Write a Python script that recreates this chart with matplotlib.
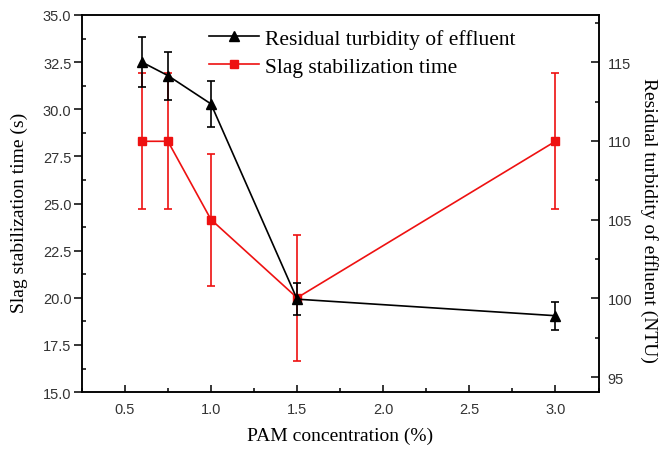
import numpy as np
import matplotlib.pyplot as plt
from matplotlib.ticker import MultipleLocator

pam = [0.6, 0.75, 1.0, 1.5, 3.0]
slag_time = [28.3, 28.3, 24.15, 20.0, 28.3]
slag_err = [3.6, 3.6, 3.5, 3.35, 3.6]
turbidity = [115.0, 114.15, 112.35, 99.95, 98.9]
turb_err = [1.57, 1.52, 1.44, 1.0, 0.9]

serif = ['Liberation Serif', 'DejaVu Serif']
sans = ['Liberation Sans', 'DejaVu Sans']
red = '#ee1111'

fig = plt.figure(figsize=(6.65, 4.56), dpi=100)
ax = fig.add_axes([0.123, 0.138, 0.777, 0.827])
ax2 = ax.twinx()

l2 = ax.errorbar(pam, slag_time, yerr=slag_err, color=red, marker='s',
                 markersize=5.5, lw=1.2, capsize=3.2, capthick=1.2, elinewidth=1.2)
l1 = ax2.errorbar(pam, turbidity, yerr=turb_err, color='black', marker='^',
                  markersize=6.5, lw=1.2, capsize=3.2, capthick=1.2, elinewidth=1.2)

ax.set_xlim(0.25, 3.25)
ax.set_ylim(15, 35)
ax2.set_ylim(94.05, 118.0)

ax.xaxis.set_major_locator(MultipleLocator(0.5))
ax.xaxis.set_minor_locator(MultipleLocator(0.25))
ax.yaxis.set_major_locator(MultipleLocator(2.5))
ax.yaxis.set_minor_locator(MultipleLocator(1.25))
ax2.yaxis.set_major_locator(MultipleLocator(5))
ax2.yaxis.set_minor_locator(MultipleLocator(2.5))
ax.xaxis.set_major_formatter(plt.FormatStrFormatter('%.1f'))
ax.yaxis.set_major_formatter(plt.FormatStrFormatter('%.1f'))

ax.tick_params(axis='x', which='both', direction='in', top=False)
ax.tick_params(axis='x', which='major', length=5, width=1.1, labelsize=10.5, pad=7)
ax.tick_params(axis='x', which='minor', length=3, width=1.1)
ax.tick_params(axis='y', which='major', direction='out', length=6, width=1.1,
               labelsize=10.5, pad=1.5)
ax.tick_params(axis='y', which='minor', direction='in', length=3, width=1.1)
ax2.tick_params(axis='y', which='major', direction='in', length=5.5, width=1.1,
                labelsize=10.5, pad=6.5)
ax2.tick_params(axis='y', which='minor', direction='in', length=3, width=1.1)

for a in (ax, ax2):
    for s in a.spines.values():
        s.set_linewidth(1.1)
    for t in a.get_xticklabels() + a.get_yticklabels():
        t.set_family(sans)
        t.set_color('#333333')

ax.set_xlabel('PAM concentration (%)', family=serif, fontsize=14, labelpad=8)
ax.set_ylabel('Slag stabilization time (s)', family=serif, fontsize=14)
ax.yaxis.set_label_coords(-0.104, 0.477)
ax2.set_ylabel('Residual turbidity of effluent (NTU)', family=serif, fontsize=14,
               rotation=270, va='bottom')
ax2.yaxis.set_label_coords(1.081, 0.459)

ax.legend([l1.lines[0], l2.lines[0]],
          ['Residual turbidity of effluent', 'Slag stabilization time'],
          loc='upper left', bbox_to_anchor=(0.238, 0.975), frameon=False,
          prop={'family': serif, 'size': 15.5}, handlelength=2.3,
          handletextpad=0.3, labelspacing=0.38, borderpad=0.2, borderaxespad=0)

fig.savefig('out.png', dpi=100)
